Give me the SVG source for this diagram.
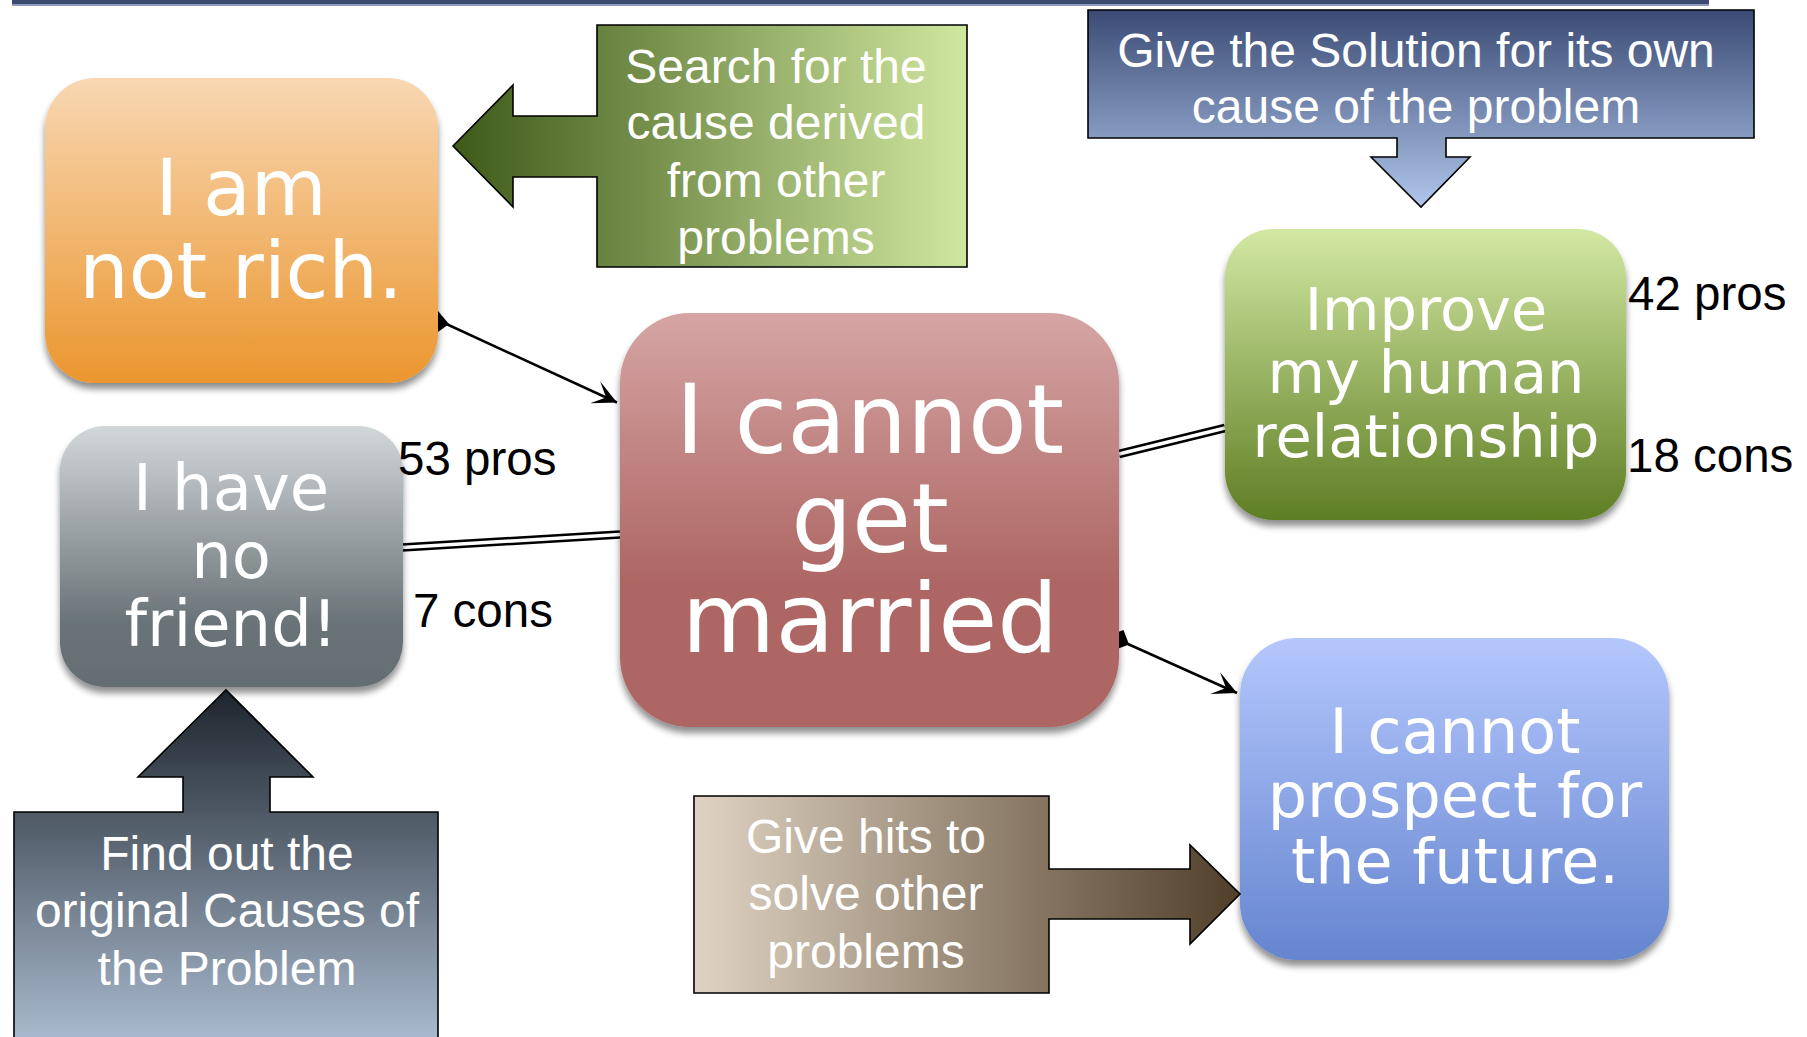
<svg xmlns="http://www.w3.org/2000/svg" width="1807" height="1037" viewBox="0 0 1807 1037">
  <style>
    .node-label { font-family: "DejaVu Sans", Verdana, sans-serif; fill: #ffffff; text-anchor: middle; }
    .callout-label { font-family: "Liberation Sans", Arial, sans-serif; font-size: 48px; fill: #ffffff; text-anchor: middle; }
    .count { font-family: "Liberation Sans", Arial, sans-serif; font-size: 47.5px; fill: #000000; }
    .callout { stroke: #000000; stroke-width: 1.6; }
    .link { fill: none; stroke: #000000; stroke-width: 2.5; }
    .dbl-out { fill: none; stroke: #000000; stroke-width: 8.5; }
    .dbl-in { fill: none; stroke: #ffffff; stroke-width: 3.5; }
  </style>
  <defs>
    <filter id="shadow" x="-10%" y="-10%" width="120%" height="125%">
      <feGaussianBlur in="SourceAlpha" stdDeviation="3.5"/>
      <feOffset dx="0" dy="6" result="b"/>
      <feComponentTransfer><feFuncA type="linear" slope="0.45"/></feComponentTransfer>
      <feMerge><feMergeNode/><feMergeNode in="SourceGraphic"/></feMerge>
    </filter>
    <linearGradient id="gOrange" x1="0" y1="0" x2="0" y2="1">
      <stop offset="0" stop-color="#f8d7b3"/>
      <stop offset="1" stop-color="#eb962e"/>
    </linearGradient>
    <linearGradient id="gGray" x1="0" y1="0" x2="0" y2="1">
      <stop offset="0" stop-color="#d2d7da"/>
      <stop offset="0.75" stop-color="#6a7378"/>
      <stop offset="1" stop-color="#646d72"/>
    </linearGradient>
    <linearGradient id="gRed" x1="0" y1="0" x2="0" y2="1">
      <stop offset="0" stop-color="#d5a5a4"/>
      <stop offset="0.65" stop-color="#ad6663"/>
      <stop offset="1" stop-color="#ad6663"/>
    </linearGradient>
    <linearGradient id="gGreen" x1="0" y1="0" x2="0" y2="1">
      <stop offset="0" stop-color="#d3e8a3"/>
      <stop offset="1" stop-color="#5e7e24"/>
    </linearGradient>
    <linearGradient id="gBlue" x1="0" y1="0" x2="0" y2="1">
      <stop offset="0" stop-color="#b4c7fd"/>
      <stop offset="1" stop-color="#6585cf"/>
    </linearGradient>
    <linearGradient id="gSearch" gradientUnits="userSpaceOnUse" x1="453" y1="0" x2="967" y2="0">
      <stop offset="0" stop-color="#3e5a18"/>
      <stop offset="1" stop-color="#d0e7a0"/>
    </linearGradient>
    <linearGradient id="gSolution" gradientUnits="userSpaceOnUse" x1="0" y1="10" x2="0" y2="207">
      <stop offset="0" stop-color="#3b4b75"/>
      <stop offset="1" stop-color="#b0c6ea"/>
    </linearGradient>
    <linearGradient id="gFind" gradientUnits="userSpaceOnUse" x1="0" y1="690" x2="0" y2="1040">
      <stop offset="0" stop-color="#1d242c"/>
      <stop offset="1" stop-color="#a9bace"/>
    </linearGradient>
    <linearGradient id="gHits" gradientUnits="userSpaceOnUse" x1="694" y1="0" x2="1240" y2="0">
      <stop offset="0" stop-color="#e0d3c3"/>
      <stop offset="1" stop-color="#513f2a"/>
    </linearGradient>
    <marker id="head" markerUnits="userSpaceOnUse" markerWidth="30" markerHeight="30" viewBox="-26 -15 30 30" refX="0" refY="0" orient="auto">
      <path d="M0,0 L-24,-12 L-12,0 L-24,12 Z" fill="#000000"/>
    </marker>
    <marker id="tail" markerUnits="userSpaceOnUse" markerWidth="26" markerHeight="26" viewBox="-13 -13 26 26" refX="0" refY="0" orient="auto">
      <path d="M-11,0 L0,-11 L11,0 L0,11 Z" fill="#000000"/>
    </marker>
  </defs>

  <!-- header rule -->
  <rect x="12" y="0" width="1697" height="4" fill="#3b4a6e"/>
  <rect x="12" y="4" width="1697" height="2" fill="#8c9bbb"/>

  <!-- connectors -->
  <g id="connectors">
    <path class="dbl-out" d="M402,547.5 L620,534.5"/>
    <path class="dbl-in" d="M402,547.5 L620,534.5"/>
    <path class="dbl-out" d="M1119,454 L1225,428"/>
    <path class="dbl-in" d="M1119,454 L1225,428"/>
    <path class="link" d="M441,321.5 L617,402.5" marker-end="url(#head)"/>
    <polygon points="438,311 449,324 438,332" fill="#000000"/>
    <path class="link" d="M1119,640 L1237,693" marker-start="url(#tail)" marker-end="url(#head)"/>
  </g>

  <!-- problem nodes -->
  <g id="node-not-rich" filter="url(#shadow)">
    <rect x="45" y="78" width="393" height="305" rx="50" fill="url(#gOrange)"/>
    <text class="node-label" font-size="78" x="241" y="215">I am</text>
    <text class="node-label" font-size="78" x="241" y="298">not rich.</text>
  </g>
  <g id="node-no-friend" filter="url(#shadow)">
    <rect x="60" y="426" width="343" height="261" rx="45" fill="url(#gGray)"/>
    <text class="node-label" font-size="64" x="231" y="510">I have</text>
    <text class="node-label" font-size="64" x="231" y="578">no</text>
    <text class="node-label" font-size="64" x="231" y="646">friend!</text>
  </g>
  <g id="node-married" filter="url(#shadow)">
    <rect x="620" y="313" width="499" height="414" rx="70" fill="url(#gRed)"/>
    <text class="node-label" font-size="96" x="870" y="453">I cannot</text>
    <text class="node-label" font-size="96" x="870" y="552">get</text>
    <text class="node-label" font-size="96" x="870" y="652">married</text>
  </g>
  <g id="node-relationship" filter="url(#shadow)">
    <rect x="1225" y="229" width="401" height="291" rx="48" fill="url(#gGreen)"/>
    <text class="node-label" font-size="59" x="1426" y="330">Improve</text>
    <text class="node-label" font-size="59" x="1426" y="393">my human</text>
    <text class="node-label" font-size="59" x="1426" y="457">relationship</text>
  </g>
  <g id="node-future" filter="url(#shadow)">
    <rect x="1240" y="638" width="429" height="322" rx="57" fill="url(#gBlue)"/>
    <text class="node-label" font-size="62" x="1455" y="753">I cannot</text>
    <text class="node-label" font-size="62" x="1455" y="817">prospect for</text>
    <text class="node-label" font-size="62" x="1455" y="883">the future.</text>
  </g>

  <!-- pros / cons counts -->
  <g id="counts">
    <text class="count" x="1628" y="310">42 pros</text>
    <text class="count" x="1627" y="472">18 cons</text>
    <text class="count" x="398" y="475">53 pros</text>
    <text class="count" x="413" y="627">7 cons</text>
  </g>

  <!-- callout arrows -->
  <g id="callout-search">
    <path class="callout" fill="url(#gSearch)" d="M597,25 H967 V267 H597 V177 H513 V207 L453,146 L513,85 V116 H597 Z"/>
    <text class="callout-label" x="776" y="83">Search for the</text>
    <text class="callout-label" x="776" y="139">cause derived</text>
    <text class="callout-label" x="776" y="197">from other</text>
    <text class="callout-label" x="776" y="254">problems</text>
  </g>
  <g id="callout-solution">
    <path class="callout" fill="url(#gSolution)" d="M1088,10 H1754 V138 H1446 V157 H1470 L1421,207 L1371,157 H1397 V138 H1088 Z"/>
    <text class="callout-label" x="1416" y="67">Give the Solution for its own</text>
    <text class="callout-label" x="1416" y="123">cause of the problem</text>
  </g>
  <g id="callout-find">
    <path class="callout" fill="url(#gFind)" d="M14,1050 V812 H183 V777 H138 L226,690 L313,777 H270 V812 H438 V1050 Z"/>
    <text class="callout-label" x="227" y="870">Find out the</text>
    <text class="callout-label" x="227" y="927">original Causes of</text>
    <text class="callout-label" x="227" y="985">the Problem</text>
  </g>
  <g id="callout-hits">
    <path class="callout" fill="url(#gHits)" d="M694,796 H1049 V869 H1190 V845 L1240,894 L1190,944 V919 H1049 V993 H694 Z"/>
    <text class="callout-label" x="866" y="853">Give hits to</text>
    <text class="callout-label" x="866" y="910">solve other</text>
    <text class="callout-label" x="866" y="968">problems</text>
  </g>
</svg>
